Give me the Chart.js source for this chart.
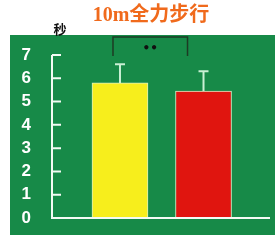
<!DOCTYPE html>
<html><head><meta charset="utf-8">
<script src="https://cdn.jsdelivr.net/npm/chart.js@4/dist/chart.umd.min.js"></script>
<style>html,body{margin:0;padding:0;background:#fff}canvas{display:block}</style>
</head>
<body>
<canvas id="c" width="275" height="241"></canvas>
<script>
const chartTitle = '10m全力步行';
const yUnit = '秒';
const categories = ['A', 'B'];
const means = [5.8, 5.45];
const errors = [0.8, 0.85];
const barColors = ['#f7ee1c', '#e0150f'];
const yTicks = [0, 1, 2, 3, 4, 5, 6, 7];
const significance = '••';

const positions = categories.map((c, i) => i + 1);

const panelPlugin = {
  id: 'panel',
  beforeDraw(chart) {
    const ctx = chart.ctx;
    ctx.save();
    ctx.fillStyle = '#ffffff';
    ctx.fillRect(0, 0, chart.width, chart.height);
    ctx.fillStyle = '#178a48';
    ctx.fillRect(10, 35, chart.width - 10, 200);
    // title
    ctx.fillStyle = '#f06a1c';
    ctx.font = 'bold 20px "Liberation Serif", "Noto Sans CJK SC"';
    ctx.textAlign = 'center';
    ctx.textBaseline = 'middle';
    ctx.fillText(chartTitle, 151, 16);
    // unit
    ctx.fillStyle = '#111';
    ctx.font = 'bold 13px "Noto Sans CJK SC"';
    ctx.fillText(yUnit, 60, 29);
    ctx.restore();
  },
  afterDatasetsDraw(chart) {
    const ctx = chart.ctx;
    const ys = chart.scales.y, xs = chart.scales.x;
    const ca = chart.chartArea;
    const axX = ca.left;
    ctx.save();
    ctx.strokeStyle = '#f4fbf4';
    ctx.lineWidth = 2;
    ctx.beginPath();
    ctx.moveTo(axX, ys.getPixelForValue(7));
    ctx.lineTo(axX, ys.getPixelForValue(0));
    ctx.lineTo(ca.right, ys.getPixelForValue(0));
    yTicks.forEach(t => {
      const py = ys.getPixelForValue(t);
      ctx.moveTo(axX, py);
      ctx.lineTo(axX + 9, py);
    });
    ctx.stroke();
    // error bars
    ctx.strokeStyle = '#c9f0d4';
    ctx.lineWidth = 2;
    positions.forEach((p, i) => {
      const px = xs.getPixelForValue(p);
      const y0 = ys.getPixelForValue(means[i]);
      const y1 = ys.getPixelForValue(means[i] + errors[i]);
      ctx.beginPath();
      ctx.moveTo(px, y0);
      ctx.lineTo(px, y1);
      ctx.moveTo(px - 5, y1);
      ctx.lineTo(px + 5, y1);
      ctx.stroke();
    });
    // significance bracket
    const bx0 = xs.getPixelForValue(positions[0]) - 7;
    const bx1 = xs.getPixelForValue(positions[1]) - 16;
    ctx.strokeStyle = '#1d3b24';
    ctx.lineWidth = 1.5;
    ctx.beginPath();
    ctx.moveTo(bx0, 56);
    ctx.lineTo(bx0, 37);
    ctx.lineTo(bx1, 37);
    ctx.lineTo(bx1, 56);
    ctx.stroke();
    ctx.fillStyle = '#111';
    ctx.font = 'bold 12px "DejaVu Sans"';
    ctx.textAlign = 'center';
    ctx.textBaseline = 'middle';
    ctx.fillText(significance, (bx0 + bx1) / 2, 49);
    ctx.restore();
  }
};

new Chart(document.getElementById('c'), {
  type: 'bar',
  data: {
    labels: categories,
    datasets: [{
      data: positions.map((p, i) => ({ x: p, y: means[i] })),
      backgroundColor: barColors,
      borderColor: '#d8f0c8',
      borderWidth: 1,
      barThickness: 56
    }]
  },
  options: {
    responsive: false,
    devicePixelRatio: 1,
    animation: false,
    layout: { padding: { top: 55, bottom: 23, right: 5, left: 0 } },
    plugins: { legend: { display: false }, title: { display: false }, tooltip: { enabled: false } },
    scales: {
      x: { type: 'linear', display: false, offset: false, min: 0.186, max: 2.796 },
      y: {
        min: 0, max: 7,
        afterFit(s) { s.width = 52; s.paddingTop = 0; s.paddingBottom = 0; },
        afterBuildTicks(s) { s.ticks = yTicks.map(v => ({ value: v })); },
        grid: { display: false, drawTicks: false },
        border: { display: false },
        ticks: { color: '#ffffff', padding: 21, autoSkip: false, font: { family: 'Liberation Sans', weight: 'bold', size: 17 } }
      }
    }
  },
  plugins: [panelPlugin]
});
</script>
</body></html>
